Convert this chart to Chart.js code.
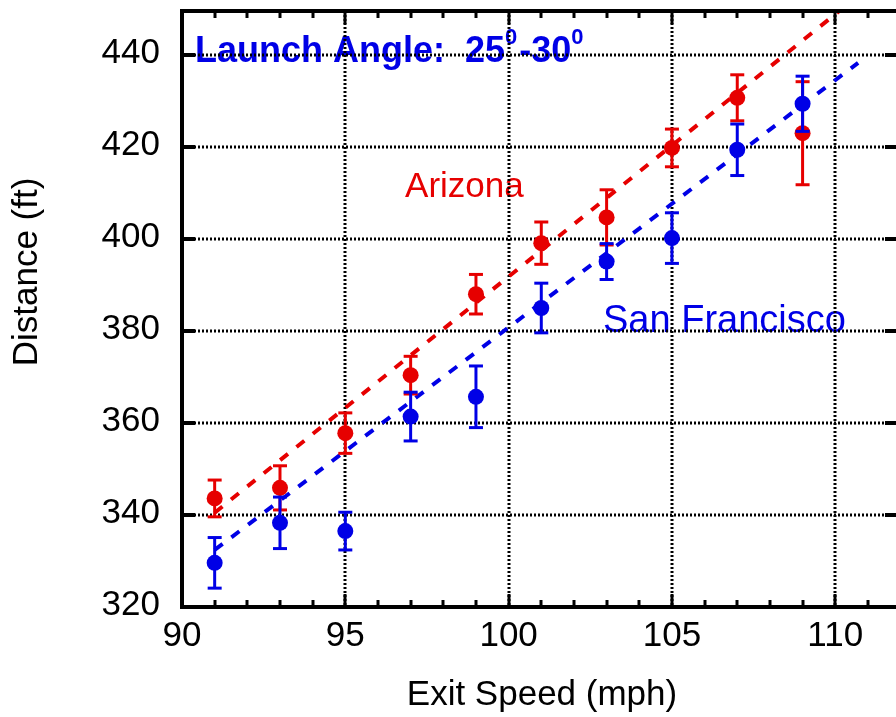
<!DOCTYPE html>
<html>
<head>
<meta charset="utf-8">
<script src="https://cdn.jsdelivr.net/npm/chart.js@4.4.0/dist/chart.umd.min.js"></script>
<style>
  html, body { margin: 0; padding: 0; background: #fff; }
  #wrap { width: 896px; height: 717px; }
</style>
</head>
<body>
<div id="wrap"><canvas id="chart" width="896" height="717"></canvas></div>
<script>
// exit speed bins (mph)
const speeds = [91, 93, 95, 97, 99, 101, 103, 105, 107, 109];
// Arizona: mean distance (ft) and error bar half size
const azDist = [343.6, 345.9, 357.8, 370.4, 388.0, 399.1, 404.7, 419.8, 430.7, 423.0];
const azErr = [4.0, 4.8, 4.4, 4.1, 4.3, 4.6, 6.0, 4.1, 5.0, 11.2];
// San Francisco
const sfDist = [329.6, 338.3, 336.5, 361.4, 365.7, 385.0, 395.1, 400.2, 419.4, 429.4];
const sfErr = [5.5, 5.6, 4.1, 5.3, 6.7, 5.4, 3.9, 5.5, 5.6, 6.0];
// dashed fit lines (end points)
const azFitX = [91, 110.2];
const azFitY = [340.5, 450.0];
const sfFitX = [91, 110.7];
const sfFitY = [332.4, 438.3];

const xTicks = [90, 95, 100, 105, 110];
const yTicks = [320, 340, 360, 380, 400, 420, 440];

const RED = '#e60000';
const BLUE = '#0000e6';
const FONT = '"Liberation Sans", Arial, sans-serif';

function line(ctx, x1, y1, x2, y2) {
  ctx.beginPath();
  ctx.moveTo(x1, y1);
  ctx.lineTo(x2, y2);
  ctx.stroke();
}

// chart.js reserves room for half of the edge labels, not wanted here
function noPad(s) {
  s.paddingTop = 0;
  s.paddingBottom = 0;
  s.paddingLeft = 0;
  s.paddingRight = 0;
}

const framePlugin = {
  id: 'frame',
  beforeDatasetsDraw(chart) {
    const { ctx, chartArea: a, scales: { x, y } } = chart;
    ctx.save();

    // annotations (grid is drawn over them like in the original)
    ctx.textBaseline = 'alphabetic';
    ctx.textAlign = 'left';
    ctx.fillStyle = RED;
    ctx.font = '35px ' + FONT;
    ctx.fillText('Arizona', x.getPixelForValue(96.83), y.getPixelForValue(409.1));
    ctx.fillStyle = BLUE;
    ctx.font = '38px ' + FONT;
    ctx.fillText('San Francisco', x.getPixelForValue(102.89), y.getPixelForValue(379.8));

    // "Launch Angle: 25°-30°" with raised zeros
    const parts = [
      { t: 'Launch Angle:  25', size: 36, dy: 0 },
      { t: '0', size: 22, dy: -18 },
      { t: '-30', size: 36, dy: 0 },
      { t: '0', size: 22, dy: -18 }
    ];
    let tx = x.getPixelForValue(90.4);
    const ty = y.getPixelForValue(438.5);
    parts.forEach(p => {
      ctx.font = 'bold ' + p.size + 'px ' + FONT;
      ctx.fillText(p.t, tx, ty + p.dy);
      tx += ctx.measureText(p.t).width + (p.size < 30 ? 2 : 0);
    });

    // dotted grid at major ticks
    ctx.beginPath();
    ctx.rect(a.left, a.top, a.right - a.left, a.bottom - a.top);
    ctx.clip();
    ctx.strokeStyle = '#000';
    ctx.lineWidth = 3;
    ctx.setLineDash([2, 2]);
    xTicks.forEach(v => {
      if (v <= x.min) return;
      const px = Math.round(x.getPixelForValue(v));
      line(ctx, px, a.top, px, a.bottom);
    });
    yTicks.forEach(v => {
      if (v <= y.min) return;
      const py = Math.round(y.getPixelForValue(v));
      line(ctx, a.left, py, a.right, py);
    });
    ctx.restore();
  },
  beforeDatasetDraw(chart, args) {
    const ds = chart.data.datasets[args.index];
    if (!ds.errors) return;
    const { ctx, scales: { x, y } } = chart;
    ctx.save();
    ctx.strokeStyle = ds.borderColor;
    ctx.lineWidth = 3;
    ds.data.forEach((p, i) => {
      const px = x.getPixelForValue(p.x);
      const top = y.getPixelForValue(p.y + ds.errors[i]);
      const bot = y.getPixelForValue(p.y - ds.errors[i]);
      line(ctx, px, top, px, bot);
      line(ctx, px - 7, top, px + 7, top);
      line(ctx, px - 7, bot, px + 7, bot);
    });
    ctx.restore();
  },
  afterDatasetsDraw(chart) {
    const { ctx, chartArea: a, scales: { x, y } } = chart;
    ctx.save();
    ctx.strokeStyle = '#000';
    ctx.lineWidth = 4;
    // frame: left, bottom, top (right side falls off the picture)
    line(ctx, a.left, a.top - 2, a.left, a.bottom + 2);
    line(ctx, a.left - 2, a.bottom, a.right, a.bottom);
    line(ctx, a.left - 2, a.top, a.right, a.top);

    // x ticks on bottom and top, every 1 mph
    ctx.lineWidth = 3;
    for (let v = Math.ceil(x.min); v <= x.max; v++) {
      if (v === x.min) continue;
      const px = Math.round(x.getPixelForValue(v));
      const len = xTicks.includes(v) ? 13 : 7;
      line(ctx, px, a.bottom, px, a.bottom - len);
      line(ctx, px, a.top, px, a.top + len);
    }
    // y ticks on left and right
    ctx.lineWidth = 4;
    yTicks.forEach(v => {
      if (v === y.min) return;
      const py = Math.round(y.getPixelForValue(v));
      line(ctx, a.left, py, a.left + 13, py);
      line(ctx, a.right, py, a.right - 11, py);
    });

    // axis titles
    ctx.fillStyle = '#000';
    ctx.font = '35px ' + FONT;
    ctx.textAlign = 'center';
    ctx.textBaseline = 'alphabetic';
    ctx.fillText('Exit Speed (mph)', 542, 705);
    ctx.translate(37, 272);
    ctx.rotate(-Math.PI / 2);
    ctx.fillText('Distance (ft)', 0, 0);
    ctx.restore();
  }
};

new Chart(document.getElementById('chart'), {
  type: 'scatter',
  data: {
    datasets: [
      {
        label: 'San Francisco',
        data: speeds.map((s, i) => ({ x: s, y: sfDist[i] })),
        errors: sfErr,
        backgroundColor: BLUE,
        borderColor: BLUE,
        pointRadius: 8,
        pointBorderWidth: 0
      },
      {
        label: 'Arizona',
        data: speeds.map((s, i) => ({ x: s, y: azDist[i] })),
        errors: azErr,
        backgroundColor: RED,
        borderColor: RED,
        pointRadius: 8,
        pointBorderWidth: 0
      },
      {
        type: 'line',
        label: 'San Francisco fit',
        data: sfFitX.map((v, i) => ({ x: v, y: sfFitY[i] })),
        borderColor: BLUE,
        borderWidth: 4,
        borderDash: [10, 11],
        pointRadius: 0,
        fill: false
      },
      {
        type: 'line',
        label: 'Arizona fit',
        data: azFitX.map((v, i) => ({ x: v, y: azFitY[i] })),
        borderColor: RED,
        borderWidth: 4,
        borderDash: [10, 11],
        pointRadius: 0,
        fill: false
      }
    ]
  },
  options: {
    responsive: false,
    animation: false,
    events: [],
    layout: { autoPadding: false, padding: { top: 11, right: 0, left: 0, bottom: 0 } },
    scales: {
      x: {
        type: 'linear',
        min: 90,
        max: 111.86,
        afterFit: s => { s.height = 110; noPad(s); },
        afterBuildTicks: s => { s.ticks = xTicks.map(v => ({ value: v })); },
        grid: { display: false, drawTicks: false },
        border: { display: false },
        ticks: { color: '#000', font: { family: FONT, size: 35 }, padding: 8, maxRotation: 0, autoSkip: false }
      },
      y: {
        type: 'linear',
        min: 320,
        max: 449.57,
        afterFit: s => { s.width = 182; noPad(s); },
        afterBuildTicks: s => { s.ticks = yTicks.map(v => ({ value: v })); },
        grid: { display: false, drawTicks: false },
        border: { display: false },
        ticks: { color: '#000', font: { family: FONT, size: 35 }, padding: 22, labelOffset: -2, autoSkip: false }
      }
    },
    plugins: { legend: { display: false }, tooltip: { enabled: false } }
  },
  plugins: [framePlugin]
});
</script>
</body>
</html>
